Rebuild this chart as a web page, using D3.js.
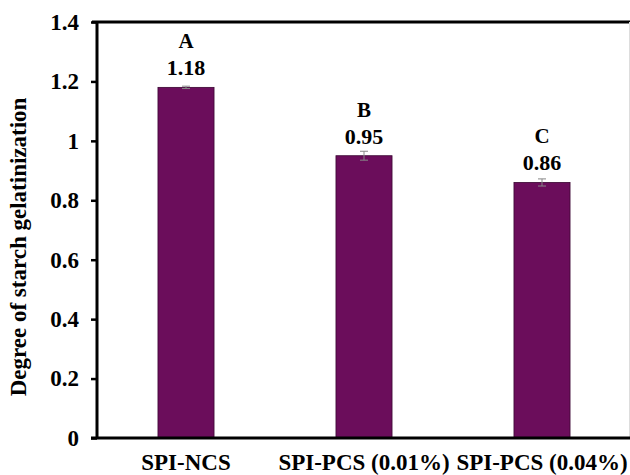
<!DOCTYPE html>
<html>
<head>
<meta charset="utf-8">
<script src="https://cdn.jsdelivr.net/npm/d3@7"></script>
<style>
  html, body { margin: 0; padding: 0; background: #fff; }
  svg { display: block; }
  text { font-family: "Liberation Serif", "Times New Roman", serif; font-weight: bold; fill: #000; }
</style>
</head>
<body>
<svg id="chart" width="630" height="475"></svg>
<script>
// Degree of starch gelatinization per sample
const categories = ["SPI-NCS", "SPI-PCS (0.01%)", "SPI-PCS (0.04%)"];
const values = [1.18, 0.95, 0.86];
const errors = [0.004, 0.015, 0.012];
const groups = ["A", "B", "C"];
const yTicks = [0, 0.2, 0.4, 0.6, 0.8, 1, 1.2, 1.4];

const svg = d3.select("#chart");
const plotLeft = 97, plotRight = 631, plotTop = 22, plotBottom = 438;

const x = d3.scaleBand().domain(categories).range([plotLeft, plotRight]).paddingInner(0.685).paddingOuter(0.3425);
const y = d3.scaleLinear().domain([0, 1.4]).range([plotBottom, plotTop]);

// plot frame: top and faint right edge
svg.append("line").attr("x1", plotLeft - 5).attr("x2", 630).attr("y1", plotTop).attr("y2", plotTop)
  .attr("stroke", "#000").attr("stroke-width", 3);
svg.append("line").attr("x1", 629.5).attr("x2", 629.5).attr("y1", plotTop).attr("y2", plotBottom)
  .attr("stroke", "#ddd").attr("stroke-width", 1);

// bars
svg.selectAll("rect.bar").data(values).join("rect")
  .attr("class", "bar")
  .attr("x", (d, i) => x(categories[i]))
  .attr("width", x.bandwidth())
  .attr("y", d => y(d))
  .attr("height", d => y(0) - y(d))
  .attr("fill", "#6b0d5b")
  .attr("stroke", "#3a0632")
  .attr("stroke-width", 0.8);

// error bars
const eb = svg.selectAll("g.err").data(values).join("g").attr("class", "err");
eb.append("line")
  .attr("x1", (d, i) => x(categories[i]) + x.bandwidth() / 2)
  .attr("x2", (d, i) => x(categories[i]) + x.bandwidth() / 2)
  .attr("y1", (d, i) => y(d - errors[i]))
  .attr("y2", (d, i) => y(d + errors[i]))
  .attr("stroke", "#888").attr("stroke-width", 1);
[1, -1].forEach(s => {
  eb.append("line")
    .attr("x1", (d, i) => x(categories[i]) + x.bandwidth() / 2 - 4)
    .attr("x2", (d, i) => x(categories[i]) + x.bandwidth() / 2 + 4)
    .attr("y1", (d, i) => y(d + s * errors[i]))
    .attr("y2", (d, i) => y(d + s * errors[i]))
    .attr("stroke", "#888").attr("stroke-width", 1);
});

// value labels and significance letters
svg.selectAll("text.val").data(values).join("text")
  .attr("class", "val")
  .attr("x", (d, i) => x(categories[i]) + x.bandwidth() / 2)
  .attr("y", d => y(d) - 12)
  .attr("text-anchor", "middle")
  .style("font-size", "22px")
  .text(d => d.toFixed(2));
svg.selectAll("text.grp").data(values).join("text")
  .attr("class", "grp")
  .attr("x", (d, i) => x(categories[i]) + x.bandwidth() / 2)
  .attr("y", d => y(d) - 39)
  .attr("text-anchor", "middle")
  .style("font-size", "21px")
  .text((d, i) => groups[i]);

// y axis
const yAxis = svg.append("g").attr("transform", `translate(${plotLeft},0)`)
  .call(d3.axisLeft(y).tickValues(yTicks).tickSize(6).tickPadding(12)
    .tickFormat(d => d3.format("")(+d.toFixed(1))));
yAxis.select(".domain").attr("stroke", "#000").attr("stroke-width", 3)
  .attr("d", `M0,${plotTop}V${plotBottom}`);
yAxis.selectAll(".tick line").attr("stroke", "#000").attr("stroke-width", 2.5);
yAxis.selectAll(".tick text").style("font-size", "23px")
  .style("font-family", '"Liberation Serif", serif').style("font-weight", "bold").attr("fill", "#000");

// x axis
const xAxis = svg.append("g").attr("transform", `translate(0,${plotBottom})`)
  .call(d3.axisBottom(x).tickSize(0).tickPadding(16));
xAxis.select(".domain").attr("stroke", "#000").attr("stroke-width", 3)
  .attr("d", `M${plotLeft - 6},0H630`);
xAxis.selectAll(".tick text").style("font-size", "23px")
  .style("font-family", '"Liberation Serif", serif').style("font-weight", "bold").attr("fill", "#000");

// y axis title
svg.append("text")
  .attr("transform", `translate(26,247) rotate(-90)`)
  .attr("text-anchor", "middle")
  .style("font-size", "23px")
  .text("Degree of starch gelatinization");
</script>
</body>
</html>
